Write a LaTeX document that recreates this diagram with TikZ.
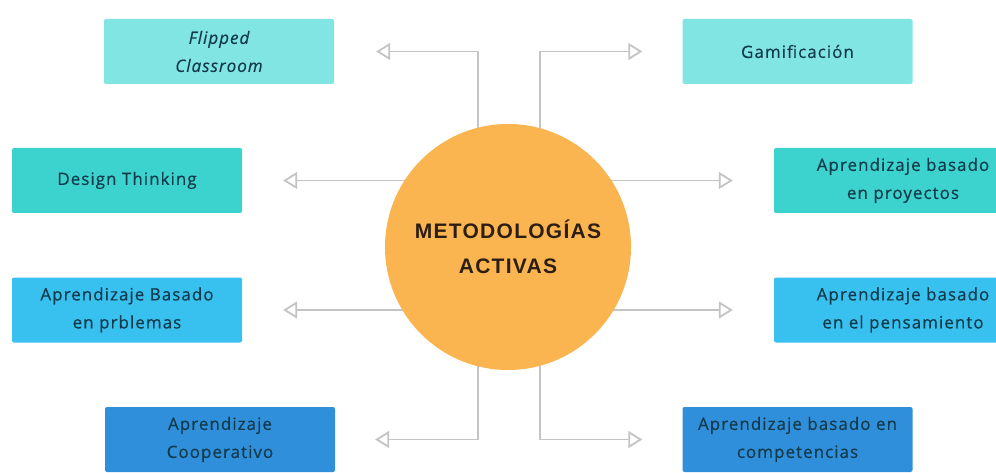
\documentclass[tikz,border=0pt]{standalone}
\usepackage{fontspec}
\setmainfont{Open Sans}
\newfontfamily\boxfont{Open Sans}[LetterSpace=6,FakeBold=0.4]
\newfontfamily\titlefont{Liberation Sans}[LetterSpace=6]
\usetikzlibrary{arrows.meta}

\definecolor{paleteal}{RGB}{128,229,227}
\definecolor{midteal}{RGB}{60,211,206}
\definecolor{skyblue}{RGB}{56,192,238}
\definecolor{deepblue}{RGB}{48,143,218}
\definecolor{sunorange}{RGB}{250,181,80}
\definecolor{boxtext}{RGB}{18,58,74}
\definecolor{titletext}{RGB}{45,30,20}
\definecolor{linkgray}{RGB}{196,196,196}

\begin{document}
\begin{tikzpicture}[x=1pt,y=-1pt,
  box/.style={rectangle,rounded corners=2pt,minimum width=230pt,minimum height=65pt,
    inner sep=0pt,text=boxtext,align=center,font={\boxfont\fontsize{17}{28}\selectfont}},
  wide box/.style={box,minimum width=258pt},
  main node/.style={circle,fill=sunorange,minimum size=246pt,inner sep=0pt,align=center,
    text=titletext,font={\titlefont\bfseries\fontsize{21}{35}\selectfont}},
  link/.style={draw=linkgray,line width=1.8pt,
    -{Triangle[open,length=14pt,width=17pt]}}]
  \clip (0,0) rectangle (996,473);
  \fill[white] (0,0) rectangle (996,473);

  % boxes
  \node[box,fill=paleteal] (fc) at (219,51.5) {\itshape Flipped\\\itshape Classroom};
  \node[box,fill=paleteal] (gm) at (797.5,51.5) {Gamificación};
  \node[box,fill=midteal] (dt) at (127,180.5) {Design Thinking};
  \node[wide box,fill=midteal] (pr) at (903,180.5) {Aprendizaje basado\\en proyectos};
  \node[box,fill=skyblue] (pb) at (127,310) {Aprendizaje Basado\\en prblemas};
  \node[wide box,fill=skyblue] (pe) at (903,310) {Aprendizaje basado\\en el pensamiento};
  \node[box,fill=deepblue] (co) at (220,439.5) {Aprendizaje\\Cooperativo};
  \node[box,fill=deepblue] (cm) at (797.5,439.5) {Aprendizaje basado en\\competencias};

  % connectors (behind the circle)
  \coordinate (c) at (508,247);
  \coordinate (cl) at (478,247);
  \coordinate (cr) at (540,247);
  \draw[link,shorten >=42pt] (cl) |- (fc.east);
  \draw[link,shorten >=40pt] (cr) |- (gm.west);
  \draw[link,shorten >=41pt] (c |- dt.east) -- (dt.east);
  \draw[link,shorten >=41pt] (c |- pr.west) -- (pr.west);
  \draw[link,shorten >=41pt] (c |- pb.east) -- (pb.east);
  \draw[link,shorten >=41pt] (c |- pe.west) -- (pe.west);
  \draw[link,shorten >=40pt] (cl) |- (co.east);
  \draw[link,shorten >=40pt] (cr) |- (cm.west);

  \node[main node] (circ) at (c) {METODOLOGÍAS\\ACTIVAS};
\end{tikzpicture}
\end{document}
